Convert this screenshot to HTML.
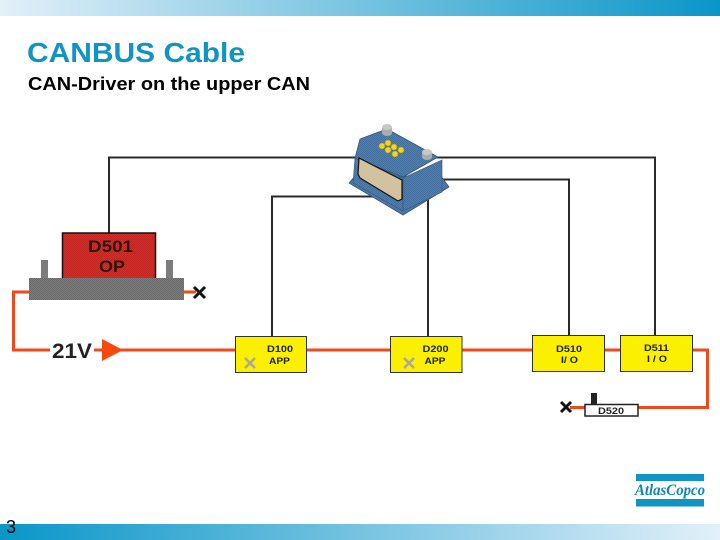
<!DOCTYPE html>
<html>
<head>
<meta charset="utf-8">
<style>
html,body{margin:0;padding:0;background:#fff}
svg{display:block}
text{font-family:"Liberation Sans",sans-serif}
</style>
</head>
<body>
<svg width="720" height="540" viewBox="0 0 720 540" xmlns="http://www.w3.org/2000/svg">
<defs>
<linearGradient id="gt" x1="0" x2="1" y1="0" y2="0"><stop offset="0" stop-color="#e2f0f9"/><stop offset="1" stop-color="#0a96c8"/></linearGradient>
<linearGradient id="gb" x1="0" x2="1" y1="0" y2="0"><stop offset="0" stop-color="#0a96c8"/><stop offset="1" stop-color="#e2f0f9"/></linearGradient>
<pattern id="dg" width="2" height="2" patternUnits="userSpaceOnUse"><rect width="2" height="2" fill="#7d7d7d"/><rect width="1" height="1" fill="#696969"/><rect x="1" y="1" width="1" height="1" fill="#696969"/></pattern>
<pattern id="dr" width="2" height="2" patternUnits="userSpaceOnUse"><rect width="2" height="2" fill="#de2a22"/><rect width="1" height="1" fill="#c42420"/><rect x="1" y="1" width="1" height="1" fill="#c42420"/></pattern>
<pattern id="db" width="2" height="2" patternUnits="userSpaceOnUse"><rect width="2" height="2" fill="#527fae"/><rect width="1" height="1" fill="#436f9f"/><rect x="1" y="1" width="1" height="1" fill="#436f9f"/></pattern>
</defs>
<rect width="720" height="540" fill="#fff"/>
<rect x="0" y="0" width="720" height="16" fill="url(#gt)"/>
<rect x="0" y="524" width="720" height="16" fill="url(#gb)"/>
<text x="27" y="62" font-size="28" font-weight="bold" fill="#0f94c4" textLength="218" lengthAdjust="spacingAndGlyphs">CANBUS Cable</text>
<text x="28" y="90" font-size="18" font-weight="bold" fill="#000" textLength="282" lengthAdjust="spacingAndGlyphs">CAN-Driver on the upper CAN</text>
<text x="6" y="533" font-size="18" fill="#000">3</text>

<!-- black wires -->
<g fill="none" stroke="#2a2a2a" stroke-width="2">
<path d="M109 233V157.500H360"/>
<path d="M655 336V157.500H435"/>
<path d="M569 336V179.500H440"/>
<path d="M272 336V196.500H375"/>
<path d="M428 336V200"/>
</g>

<!-- orange wires -->
<g fill="none" stroke="#f04a1c" stroke-width="3">
<path d="M29 292H13.500V350H50"/>
<path d="M120 350H707.500V407.500H585"/>
<path d="M184 292H196"/>
<path d="M585 407.500H570"/>
</g>
<polygon points="102,339 123,350 102,361" fill="#f8480e"/>
<path d="M94 350H102" stroke="#f04a1c" stroke-width="3"/>
<text x="52" y="358" font-size="21" font-weight="bold" fill="#222" textLength="40" lengthAdjust="spacingAndGlyphs">21V</text>

<!-- D501 -->
<rect x="41" y="260" width="7" height="18" fill="#7c7c7c"/>
<rect x="166" y="260" width="7" height="18" fill="#7c7c7c"/>
<rect x="62.500" y="233" width="93" height="46" fill="url(#dr)" stroke="#111" stroke-width="1.500"/>
<text x="88" y="252" font-size="17" font-weight="bold" fill="#2a1512" textLength="45" lengthAdjust="spacingAndGlyphs">D501</text>
<text x="99" y="272" font-size="17" font-weight="bold" fill="#2a1512" textLength="26" lengthAdjust="spacingAndGlyphs">OP</text>
<rect x="29" y="278" width="155" height="22" fill="url(#dg)"/>
<path d="M194 287L205 298M205 287L194 298" stroke="#111" stroke-width="3" fill="none"/>

<!-- yellow modules -->
<g fill="#faf000" stroke="#333" stroke-width="1">
<rect x="235.500" y="336.500" width="71" height="36"/>
<rect x="390.500" y="336.500" width="71.500" height="36"/>
<rect x="532.500" y="335.500" width="72" height="36"/>
<rect x="620.500" y="335.500" width="72" height="36"/>
</g>
<g font-size="9" font-weight="bold" fill="#222">
<text x="267" y="352" textLength="26" lengthAdjust="spacingAndGlyphs">D100</text>
<text x="269" y="364" textLength="21" lengthAdjust="spacingAndGlyphs">APP</text>
<text x="422.500" y="352" textLength="26" lengthAdjust="spacingAndGlyphs">D200</text>
<text x="424.500" y="364" textLength="21" lengthAdjust="spacingAndGlyphs">APP</text>
<text x="556" y="352" textLength="26" lengthAdjust="spacingAndGlyphs">D510</text>
<text x="561" y="363" textLength="17" lengthAdjust="spacingAndGlyphs">I/ O</text>
<text x="644" y="351" textLength="25" lengthAdjust="spacingAndGlyphs">D511</text>
<text x="647" y="362" textLength="20" lengthAdjust="spacingAndGlyphs">I / O</text>
</g>
<path d="M245 358L255 368M255 358L245 368M404 358L414 368M414 358L404 368" stroke="#aaa89a" stroke-width="2.500" fill="none"/>

<!-- D520 -->
<rect x="591" y="393" width="6" height="11" fill="#222"/>
<rect x="585" y="404.500" width="53" height="11.500" fill="#fff" stroke="#222" stroke-width="1.500"/>
<text x="598" y="414" font-size="9" font-weight="bold" fill="#222" textLength="26" lengthAdjust="spacingAndGlyphs">D520</text>
<path d="M561 402L571 412M571 402L561 412" stroke="#111" stroke-width="3" fill="none"/>

<!-- battery -->
<polygon points="349,183 355,176 441,176 449,187 403,215" fill="url(#db)" stroke="#34557a" stroke-width=".8"/>
<polygon points="355,158 403,178 403,211 353,183" fill="url(#db)" stroke="#34557a" stroke-width=".6"/>
<polygon points="403,178 442,160 442,192 403,211" fill="url(#db)" stroke="#34557a" stroke-width=".6"/>
<polygon points="360,139 387,129 438,157 403,177 355,158" fill="url(#db)" stroke="#34557a" stroke-width=".8"/>
<path d="M359,158L402,180V199L398,201L360,178L358,174Z" fill="#d3c29f" stroke="#111" stroke-width="1.200"/>
<path d="M382 127V133a5 3 0 0 0 10 0V127z" fill="#a8adad"/>
<ellipse cx="387" cy="127" rx="5" ry="3" fill="#c9c9c4"/>
<path d="M422 152V157a5 3 0 0 0 10 0V152z" fill="#a8adad"/>
<ellipse cx="427" cy="152" rx="5" ry="3" fill="#c9c9c4"/>
<g fill="#f5d41a" stroke="#b09a10" stroke-width=".5">
<circle cx="382" cy="146" r="3"/><circle cx="388" cy="143" r="3"/>
<circle cx="388" cy="150" r="3"/><circle cx="394" cy="147" r="3"/>
<circle cx="395" cy="154" r="3"/><circle cx="401" cy="150" r="3"/>
</g>

<!-- logo -->
<rect x="636" y="474" width="68" height="7" fill="#0f94c4"/>
<rect x="636" y="499" width="68" height="7.500" fill="#0f94c4"/>
<text x="635" y="495" font-size="16" font-style="italic" font-weight="bold" fill="#0f86b4" textLength="70" lengthAdjust="spacingAndGlyphs" style='font-family:"Liberation Serif",serif'>AtlasCopco</text>
</svg>
</body>
</html>
